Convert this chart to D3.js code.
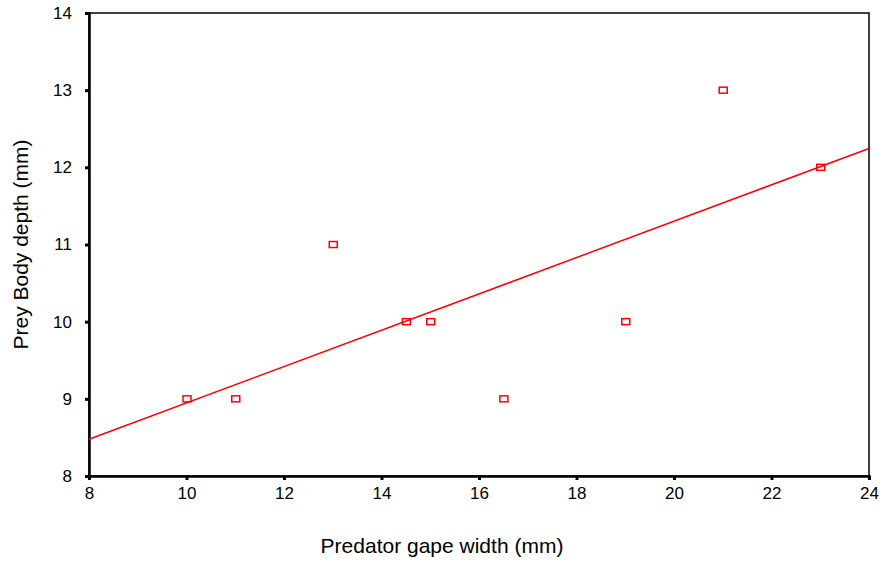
<!DOCTYPE html>
<html>
<head>
<meta charset="utf-8">
<script src="https://cdn.jsdelivr.net/npm/d3@7"></script>
<style>
	body { margin: 0; background: #fff; }
	svg { display: block; font-family: "Liberation Sans", Arial, sans-serif; }
</style>
</head>
<body>
<div id="chart"></div>
<script>
// gape width vs body depth
let gapeWidth = [10, 11, 13, 14.5, 15, 16.5, 19, 21, 23];
let bodyDepth = [9, 9, 11, 10, 10, 9, 10, 13, 12];
let xTicks = [8, 10, 12, 14, 16, 18, 20, 22, 24];
let yTicks = [8, 9, 10, 11, 12, 13, 14];

let w = 882, h = 562;
let margin = {top: 13, right: 13, bottom: 86, left: 89};

let svg = d3.select("#chart")
	.append("svg")
	.attr("width", w)
	.attr("height", h);

let x = d3.scaleLinear()
	.domain([8, 24])
	.range([margin.left, w - margin.right]);

let y = d3.scaleLinear()
	.domain([8, 14])
	.range([h - margin.bottom, margin.top]);

// frame
svg.append("rect")
	.attr("x", x(8))
	.attr("y", y(14))
	.attr("width", x(24) - x(8))
	.attr("height", y(8) - y(14))
	.attr("fill", "none")
	.attr("stroke", "#000")
	.attr("stroke-width", 1.5);

let xAxis = svg.append("g")
	.attr("transform", `translate(0,${y(8)})`)
	.call(d3.axisBottom(x).tickValues(xTicks).tickSize(4).tickPadding(7).tickFormat(d3.format("d")));

let yAxis = svg.append("g")
	.attr("transform", `translate(${x(8)},0)`)
	.call(d3.axisLeft(y).tickValues(yTicks).tickSize(4).tickPadding(13).tickFormat(d3.format("d")));

[xAxis, yAxis].forEach((g) => {
	g.attr("font-size", 17).attr("font-family", "'Liberation Sans', Arial, sans-serif");
	g.select(".domain").attr("stroke", "#000").attr("stroke-width", 2.5);
	g.selectAll(".tick line").attr("stroke", "#000").attr("stroke-width", 3);
	g.selectAll(".tick text").attr("fill", "#000");
});

// least squares fit through the points
let pts = gapeWidth.map((d, i) => ({x: d, y: bodyDepth[i]}));
let mx = d3.mean(pts, (d) => d.x);
let my = d3.mean(pts, (d) => d.y);
let slope = d3.sum(pts, (d) => (d.x - mx) * (d.y - my)) / d3.sum(pts, (d) => (d.x - mx) * (d.x - mx));
let icpt = my - slope * mx;

svg.append("line")
	.attr("x1", x(8))
	.attr("y1", y(icpt + slope * 8))
	.attr("x2", x(24))
	.attr("y2", y(icpt + slope * 24))
	.attr("stroke", "#ff0000")
	.attr("stroke-width", 1.5);

svg.selectAll("rect.pt")
	.data(pts)
	.enter().append("rect")
	.attr("class", "pt")
	.attr("x", (d) => x(d.x) - 3.5)
	.attr("y", (d) => y(d.y) - 3)
	.attr("width", 8)
	.attr("height", 6)
	.attr("fill", "none")
	.attr("stroke", "#ff0000")
	.attr("stroke-width", 1.5);

svg.append("text")
	.attr("x", 442)
	.attr("y", 553)
	.attr("text-anchor", "middle")
	.style("font-size", "21px")
	.text("Predator gape width (mm)");

svg.append("text")
	.attr("transform", `translate(28,${(y(8) + y(14)) / 2}) rotate(-90)`)
	.attr("text-anchor", "middle")
	.style("font-size", "21px")
	.text("Prey Body depth (mm)");
</script>
</body>
</html>
